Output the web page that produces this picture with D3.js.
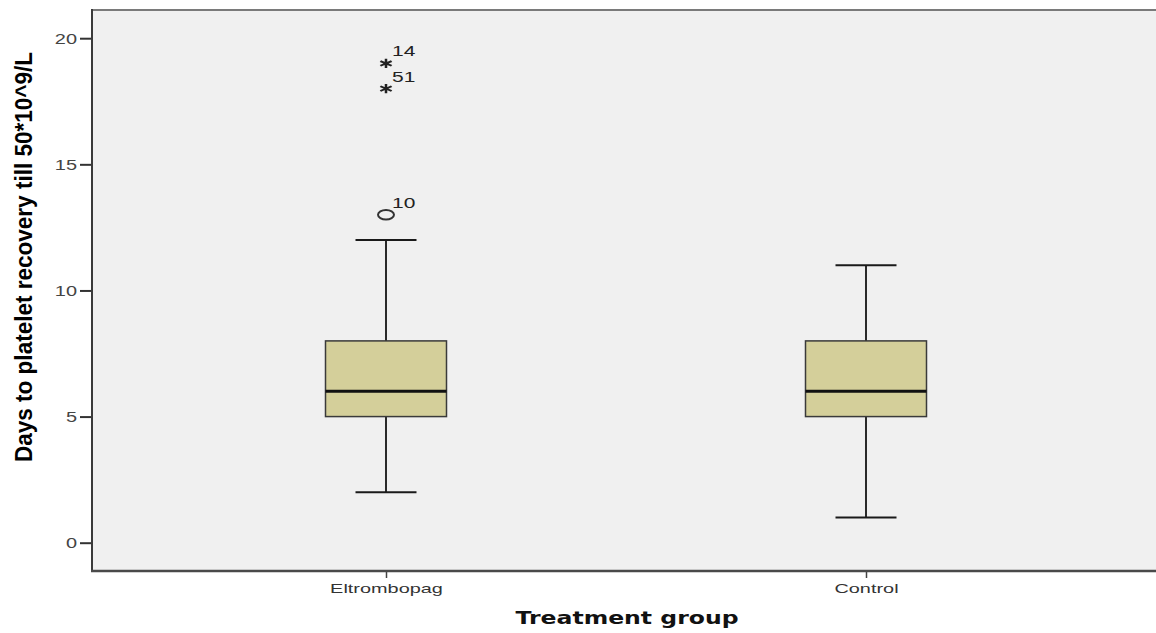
<!DOCTYPE html>
<html>
<head>
<meta charset="utf-8">
<script src="https://cdn.jsdelivr.net/npm/d3@7"></script>
<style>
  html, body { margin: 0; padding: 0; background: #fff; }
  svg { display: block; }
</style>
</head>
<body>
<svg id="chart" width="1156" height="633"></svg>
<script>
// Group names and five-number summaries (days)
const groups = ["Eltrombopag", "Control"];
const whiskerLow = [2, 1];
const quartile1 = [5, 5];
const medians = [6, 6];
const quartile3 = [8, 8];
const whiskerHigh = [12, 11];

// Flagged cases: group, value, case number, kind (o = outlier, * = extreme)
const outlierGroup = ["Eltrombopag", "Eltrombopag", "Eltrombopag"];
const outlierValue = [19, 18, 13];
const outlierCase = ["14", "51", "10"];
const outlierKind = ["*", "*", "o"];

const yTicks = [0, 5, 10, 15, 20];

const svg = d3.select("#chart");
const plot = { left: 92, right: 1160, top: 10, bottom: 571 };
// the whole figure is drawn horizontally widened
const stretch = 1.4;

const x = d3.scalePoint()
  .domain(groups)
  .range([plot.left, plot.right])
  .padding(0.6125);

const y = d3.scaleLinear()
  .domain([0, 20])
  .range([542.7, 38.2]);

// Plot background
svg.append("rect")
  .attr("x", plot.left).attr("y", plot.top)
  .attr("width", plot.right - plot.left)
  .attr("height", plot.bottom - plot.top)
  .attr("fill", "#f0f0f0");

// Frame top edge
svg.append("line")
  .attr("x1", plot.left).attr("x2", plot.right)
  .attr("y1", plot.top).attr("y2", plot.top)
  .attr("stroke", "#7a7a7a").attr("stroke-width", 2);

// Y axis
const ySx = 1.33;
const yAxis = svg.append("g")
  .attr("transform", `translate(${plot.left},0)`)
  .call(d3.axisLeft(y).tickValues(yTicks).tickSize(12).tickPadding(3).tickSizeOuter(0));
yAxis.select(".domain").remove();
yAxis.selectAll(".tick line").attr("stroke", "#333").attr("stroke-width", 2);
yAxis.selectAll(".tick text")
  .attr("x", -15 / ySx)
  .attr("transform", `scale(${ySx},1)`)
  .attr("fill", "#444")
  .style("font-family", "'Liberation Sans', Arial, sans-serif")
  .style("font-size", "15px");
svg.append("line")
  .attr("x1", plot.left).attr("x2", plot.left)
  .attr("y1", plot.top - 1).attr("y2", plot.bottom + 1)
  .attr("stroke", "#3a3a3a").attr("stroke-width", 2);

// X axis
const xSx = 1.53;
const xAxis = svg.append("g")
  .attr("transform", `translate(0,${plot.bottom})`)
  .call(d3.axisBottom(x).tickSize(7).tickPadding(6).tickSizeOuter(0));
xAxis.select(".domain").remove();
xAxis.selectAll(".tick line").attr("stroke", "#444").attr("stroke-width", 1.5);
xAxis.selectAll(".tick text")
  .attr("transform", `scale(${xSx},1)`)
  .attr("fill", "#333")
  .style("font-family", "'Liberation Sans', Arial, sans-serif")
  .style("font-size", "13px");
svg.append("line")
  .attr("x1", plot.left - 1).attr("x2", plot.right)
  .attr("y1", plot.bottom).attr("y2", plot.bottom)
  .attr("stroke", "#4a4a4a").attr("stroke-width", 2.5);

// Box plots
const boxWidth = 121;
const capWidth = 61;
const boxes = svg.append("g");
groups.forEach((g, i) => {
  const cx = x(g);
  const b = boxes.append("g");
  // whiskers
  b.append("line")
    .attr("x1", cx).attr("x2", cx)
    .attr("y1", y(quartile3[i])).attr("y2", y(whiskerHigh[i]))
    .attr("stroke", "#2a2a2a").attr("stroke-width", 2);
  b.append("line")
    .attr("x1", cx).attr("x2", cx)
    .attr("y1", y(quartile1[i])).attr("y2", y(whiskerLow[i]))
    .attr("stroke", "#2a2a2a").attr("stroke-width", 2);
  [whiskerHigh[i], whiskerLow[i]].forEach(v => {
    b.append("line")
      .attr("x1", cx - capWidth / 2).attr("x2", cx + capWidth / 2)
      .attr("y1", y(v)).attr("y2", y(v))
      .attr("stroke", "#1a1a1a").attr("stroke-width", 2.2);
  });
  // box
  b.append("rect")
    .attr("x", cx - boxWidth / 2)
    .attr("y", y(quartile3[i]))
    .attr("width", boxWidth)
    .attr("height", y(quartile1[i]) - y(quartile3[i]))
    .attr("fill", "#d4cf9a")
    .attr("stroke", "#3a3a3a").attr("stroke-width", 1.5);
  // median
  b.append("line")
    .attr("x1", cx - boxWidth / 2).attr("x2", cx + boxWidth / 2)
    .attr("y1", y(medians[i])).attr("y2", y(medians[i]))
    .attr("stroke", "#111").attr("stroke-width", 3);
});

// Outliers and extremes with case labels
const marks = svg.append("g");
outlierValue.forEach((v, i) => {
  const cx = x(outlierGroup[i]);
  const cy = y(v);
  if (outlierKind[i] === "*") {
    marks.append("path")
      .attr("transform", `translate(${cx},${cy}) scale(${stretch},1)`)
      .attr("d", d3.symbol(d3.symbolAsterisk, 60)())
      .attr("fill", "none").attr("stroke", "#222").attr("stroke-width", 1.8);
  } else {
    marks.append("ellipse")
      .attr("cx", cx).attr("cy", cy)
      .attr("rx", 8).attr("ry", 4.8)
      .attr("fill", "none").attr("stroke", "#333").attr("stroke-width", 2);
  }
  marks.append("text")
    .attr("transform", `translate(${cx + 6},${cy - 7}) scale(${stretch},1)`)
    .attr("fill", "#222")
    .style("font-family", "'Liberation Sans', Arial, sans-serif")
    .style("font-size", "15px")
    .text(outlierCase[i]);
});

// Axis titles
svg.append("text")
  .attr("transform", "translate(32,257) rotate(-90)")
  .attr("text-anchor", "middle")
  .attr("fill", "#000")
  .attr("textLength", 410)
  .attr("lengthAdjust", "spacingAndGlyphs")
  .style("font-family", "'Liberation Sans Narrow', 'Liberation Sans', Arial, sans-serif")
  .style("font-weight", "bold")
  .style("font-size", "23px")
  .text("Days to platelet recovery till 50*10^9/L");

svg.append("text")
  .attr("x", 627).attr("y", 624)
  .attr("text-anchor", "middle")
  .attr("fill", "#111")
  .attr("textLength", 223)
  .attr("lengthAdjust", "spacingAndGlyphs")
  .style("font-family", "'DejaVu Sans', Verdana, sans-serif")
  .style("font-weight", "bold")
  .style("font-size", "17px")
  .text("Treatment group");
</script>
</body>
</html>
